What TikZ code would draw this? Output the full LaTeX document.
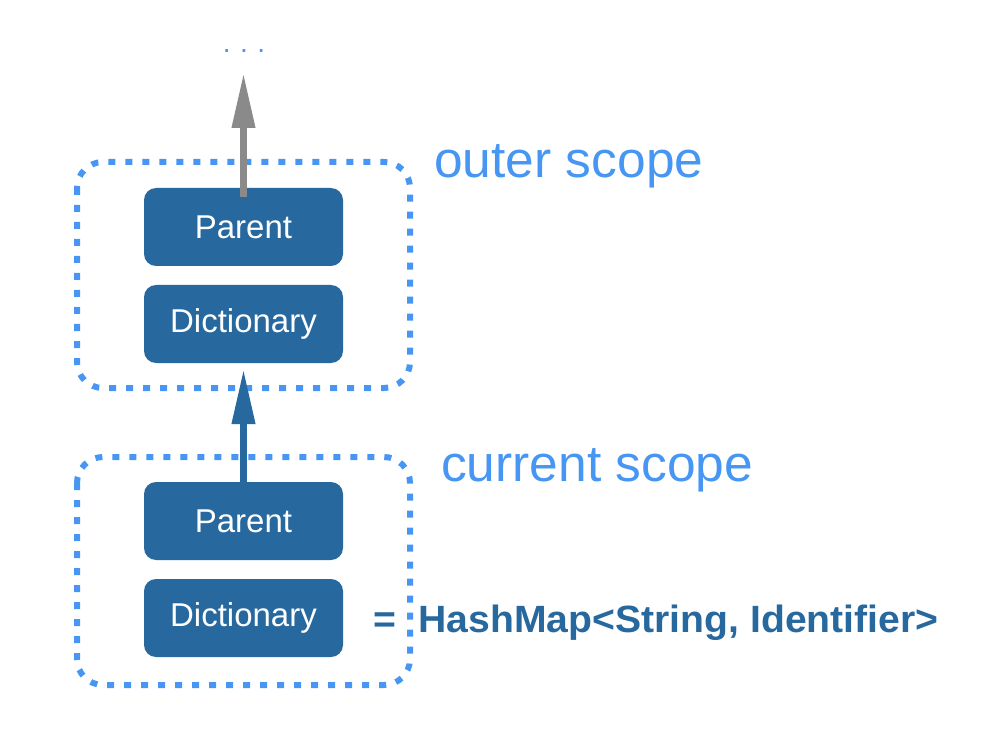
\documentclass[tikz,border=0pt]{standalone}
\usepackage{fontspec}
\setmainfont{Liberation Sans}
\usetikzlibrary{arrows.meta}
\definecolor{boxblue}{HTML}{27689E}
\definecolor{lightblue}{HTML}{4796F3}
\definecolor{arrowgray}{HTML}{8A8A8A}
\tikzset{
  x=1pt,y=-1pt,
  blk/.style={fill=boxblue, rounded corners=12pt, minimum width=199pt, minimum height=78pt, inner sep=0pt, text=white, font=\fontsize{33}{36}\selectfont},
  scopebox/.style={draw=lightblue, line width=6pt, dash pattern=on 7pt off 10pt, rounded corners=26pt},
  scopelabel/.style={text=lightblue, font=\fontsize{51}{54}\selectfont, anchor=base west, inner sep=0pt, xscale=1.01},
  conn/.style={line width=7pt, -{Triangle[length=55pt,width=22pt]}}
}
\begin{document}
\begin{tikzpicture}
\useasboundingbox (0,0) rectangle (986,730);
% scope boxes
\draw[scopebox] (77,162) rectangle (410,388);
\draw[scopebox] (77,457) rectangle (410,685);
% nodes
\node[blk] (po) at (243.5,227) {Parent};
\node[blk] (do) at (243.5,324) {Dictionary};
\node[blk] (pc) at (243.5,521) {Parent};
\node[blk] (dc) at (243.5,618) {Dictionary};
% labels
\node[scopelabel] (ol) at (434,178) {outer scope};
\node[scopelabel] (cl) at (441,481) {current scope};
\node[text=lightblue, font=\fontsize{28}{30}\selectfont, inner sep=0pt, anchor=base] (dots) at (244,53) {.\hspace{9.5pt}.\hspace{9.5pt}.};
\node[text=boxblue, font=\bfseries\fontsize{38}{40}\selectfont, anchor=west, inner sep=0pt, xscale=1.03] (hm) at (373,623) {=\hspace{22pt}HashMap<String, Identifier>};
% arrows
\coordinate (gtip) at (243.5,73);
\coordinate (btip) at (243.5,369);
\draw[conn, draw=arrowgray, fill=arrowgray] ([yshift=-9pt]po.north) -- (gtip);
\draw[conn, draw=boxblue, fill=boxblue] ([yshift=-11pt]pc.north) -- (btip);
\end{tikzpicture}
\end{document}
